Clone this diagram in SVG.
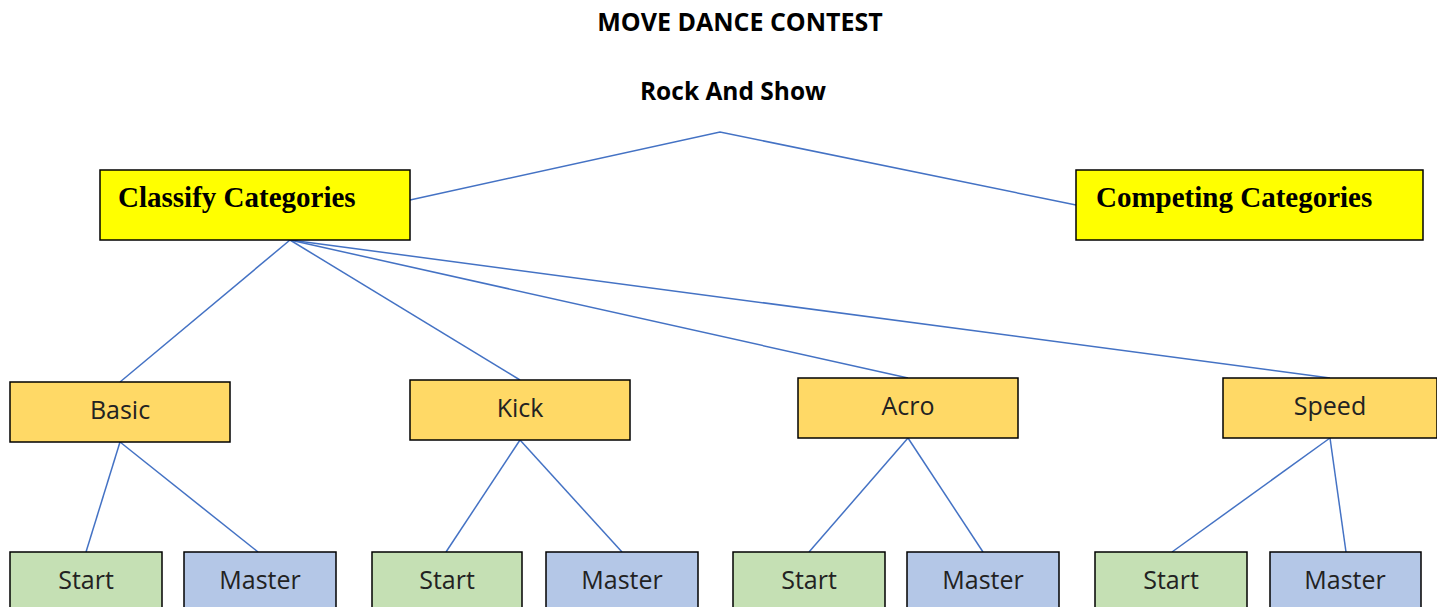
<svg xmlns="http://www.w3.org/2000/svg" width="1437" height="607" viewBox="0 0 1437 607">
<style>
.t{font-family:"Open Sans","Liberation Sans",sans-serif;font-weight:bold;fill:#000;text-anchor:middle}
.cat{fill:#ffff00;stroke:#000;stroke-width:1.5}
.ct{font-family:"Liberation Serif",serif;font-weight:bold;font-size:29px;fill:#000}
.mid{fill:#ffd966;stroke:#000;stroke-width:1.5}
.st{fill:#c5e0b4;stroke:#000;stroke-width:1.5}
.ms{fill:#b4c7e7;stroke:#000;stroke-width:1.5}
.lb{font-family:"Open Sans","Liberation Sans",sans-serif;font-size:25px;fill:#222;text-anchor:middle}
.c line,.c polyline{stroke:#4472c4;stroke-width:1.5;fill:none}
</style>
<rect width="1437" height="607" fill="#fff"/>
<text class="t" x="740" y="31" font-size="25">MOVE DANCE CONTEST</text>
<text class="t" x="733" y="100" font-size="24.5">Rock And Show</text>
<g class="c" id="connectors">
<polyline points="410,200 720,132 1076,205"/>
<line x1="290" y1="240" x2="120" y2="382"/>
<line x1="290" y1="240" x2="520" y2="380"/>
<line x1="290" y1="240" x2="908" y2="378"/>
<line x1="290" y1="240" x2="1330" y2="378"/>
<line x1="120" y1="442" x2="86" y2="552"/>
<line x1="120" y1="442" x2="258" y2="552"/>
<line x1="520" y1="440" x2="446" y2="552"/>
<line x1="520" y1="440" x2="622" y2="552"/>
<line x1="908" y1="438" x2="809" y2="552"/>
<line x1="908" y1="438" x2="983" y2="552"/>
<line x1="1330" y1="438" x2="1172" y2="552"/>
<line x1="1330" y1="438" x2="1346" y2="552"/>
</g>
<g id="classify"><rect class="cat" x="100" y="170" width="310" height="70"/><text class="ct" x="118" y="207">Classify Categories</text></g>
<g id="competing"><rect class="cat" x="1076" y="170" width="347" height="70"/><text class="ct" x="1096" y="207">Competing Categories</text></g>
<g id="basic"><rect class="mid" x="10" y="382" width="220" height="60"/><text class="lb" x="120" y="419">Basic</text></g>
<g id="kick"><rect class="mid" x="410" y="380" width="220" height="60"/><text class="lb" x="520" y="417">Kick</text></g>
<g id="acro"><rect class="mid" x="798" y="378" width="220" height="60"/><text class="lb" x="908" y="415">Acro</text></g>
<g id="speed"><rect class="mid" x="1223" y="378" width="214" height="60"/><text class="lb" x="1330" y="415">Speed</text></g>
<g id="basic-start"><rect class="st" x="10" y="552" width="152" height="60"/><text class="lb" x="86" y="589">Start</text></g>
<g id="basic-master"><rect class="ms" x="184" y="552" width="152" height="60"/><text class="lb" x="260" y="589">Master</text></g>
<g id="kick-start"><rect class="st" x="372" y="552" width="150" height="60"/><text class="lb" x="447" y="589">Start</text></g>
<g id="kick-master"><rect class="ms" x="546" y="552" width="152" height="60"/><text class="lb" x="622" y="589">Master</text></g>
<g id="acro-start"><rect class="st" x="733" y="552" width="152" height="60"/><text class="lb" x="809" y="589">Start</text></g>
<g id="acro-master"><rect class="ms" x="907" y="552" width="152" height="60"/><text class="lb" x="983" y="589">Master</text></g>
<g id="speed-start"><rect class="st" x="1095" y="552" width="152" height="60"/><text class="lb" x="1171" y="589">Start</text></g>
<g id="speed-master"><rect class="ms" x="1270" y="552" width="151" height="60"/><text class="lb" x="1345" y="589">Master</text></g>
</svg>
